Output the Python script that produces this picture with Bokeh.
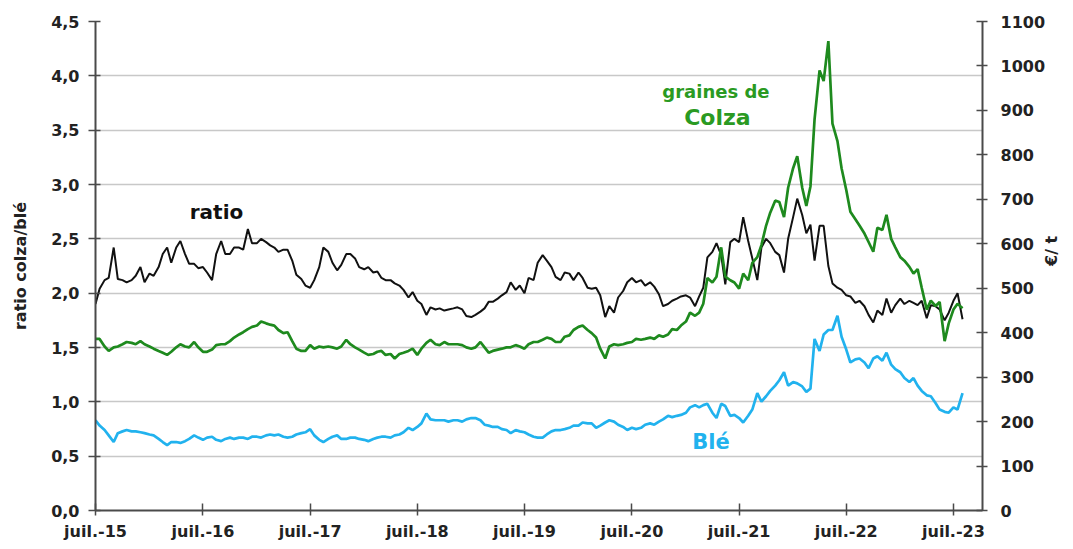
import pandas as pd
from math import pi
from bokeh.plotting import figure
from bokeh.models import Range1d, LinearAxis, FixedTicker, Label
from bokeh.embed import file_html
from bokeh.resources import INLINE

# ---- data (semi-monthly readings, July 2015 -> August 2023) ----
dates = pd.date_range("2015-07-01", periods=195, freq="SMS")

ratio = [
    1.90, 2.04, 2.12, 2.14, 2.42, 2.13, 2.12, 2.10, 2.12, 2.16,
    2.24, 2.10, 2.18, 2.16, 2.24, 2.36, 2.42, 2.28, 2.42, 2.48,
    2.36, 2.27, 2.27, 2.23, 2.24, 2.19, 2.12, 2.36, 2.48, 2.36,
    2.36, 2.42, 2.42, 2.40, 2.59, 2.46, 2.46, 2.50, 2.47, 2.44,
    2.42, 2.38, 2.40, 2.40, 2.30, 2.17, 2.13, 2.07, 2.05, 2.12,
    2.24, 2.42, 2.38, 2.28, 2.21, 2.26, 2.36, 2.36, 2.32, 2.24,
    2.22, 2.24, 2.19, 2.20, 2.14, 2.12, 2.12, 2.09, 2.07, 2.03,
    1.96, 2.01, 1.93, 1.90, 1.80, 1.87, 1.85, 1.86, 1.84, 1.85,
    1.86, 1.87, 1.85, 1.79, 1.78, 1.80, 1.83, 1.86, 1.92, 1.92,
    1.95, 1.98, 2.01, 2.10, 2.03, 2.07, 2.00, 2.14, 2.12, 2.28,
    2.35, 2.30, 2.24, 2.15, 2.12, 2.19, 2.18, 2.12, 2.19, 2.14,
    2.05, 2.04, 2.05, 1.98, 1.78, 1.88, 1.82, 1.96, 2.02, 2.10,
    2.14, 2.10, 2.12, 2.07, 2.10, 2.06, 1.99, 1.88, 1.90, 1.93,
    1.95, 1.97, 1.98, 1.96, 1.88, 1.97, 2.05, 2.33, 2.38, 2.46,
    2.35, 2.08, 2.47, 2.50, 2.47, 2.70, 2.48, 2.32, 2.12, 2.42,
    2.50, 2.46, 2.38, 2.35, 2.19, 2.50, 2.70, 2.87, 2.72, 2.55,
    2.63, 2.30, 2.62, 2.62, 2.25, 2.09, 2.05, 2.03, 1.98, 1.97,
    1.91, 1.93, 1.88, 1.80, 1.73, 1.84, 1.80, 1.95, 1.82, 1.89,
    1.95, 1.90, 1.93, 1.91, 1.89, 1.93, 1.77, 1.89, 1.88, 1.85,
    1.75, 1.82, 1.93, 2.00, 1.76,
]

colza = [
    386, 386, 369, 359, 367, 369, 374, 379, 377, 374,
    381, 374, 369, 364, 359, 355, 350, 357, 367, 374,
    369, 367, 379, 367, 357, 357, 362, 372, 374, 374,
    381, 389, 396, 401, 408, 413, 416, 425, 421, 418,
    416, 406, 399, 401, 381, 364, 359, 359, 372, 364,
    369, 367, 369, 367, 364, 369, 384, 374, 367, 362,
    355, 350, 352, 357, 359, 350, 352, 342, 352, 355,
    359, 364, 350, 364, 377, 384, 374, 372, 379, 374,
    374, 374, 372, 367, 364, 367, 379, 367, 355, 359,
    362, 364, 367, 367, 372, 369, 364, 374, 379, 379,
    384, 389, 386, 379, 379, 391, 394, 406, 413, 416,
    406, 399, 389, 364, 342, 369, 374, 372, 374, 377,
    379, 386, 384, 386, 389, 386, 394, 391, 396, 408,
    406, 416, 425, 445, 438, 445, 465, 523, 513, 526,
    592, 526, 518, 513, 499, 533, 518, 557, 570, 597,
    641, 670, 697, 694, 660, 726, 770, 797, 726, 685,
    729, 880, 990, 966, 1056, 870, 831, 770, 721, 672,
    655, 641, 623, 604, 582, 636, 631, 665, 611, 592,
    570, 562, 548, 533, 543, 501, 452, 472, 460, 469,
    381, 421, 452, 465, 455,
]

ble = [
    203, 191, 181, 169, 154, 174, 178, 181, 178, 178,
    176, 174, 171, 169, 161, 154, 147, 154, 154, 152,
    156, 161, 169, 164, 159, 164, 166, 159, 156, 161,
    164, 161, 164, 164, 161, 166, 166, 164, 169, 171,
    169, 171, 166, 164, 166, 171, 174, 176, 183, 169,
    159, 154, 161, 166, 169, 161, 161, 164, 164, 161,
    159, 156, 161, 164, 166, 166, 164, 169, 171, 176,
    186, 181, 188, 196, 218, 205, 203, 203, 203, 200,
    203, 203, 200, 205, 208, 208, 203, 193, 191, 188,
    188, 183, 181, 174, 181, 178, 176, 171, 166, 164,
    164, 171, 178, 181, 181, 183, 186, 191, 191, 198,
    196, 196, 186, 191, 198, 203, 200, 193, 188, 181,
    186, 183, 186, 193, 196, 193, 200, 205, 213, 210,
    213, 215, 220, 232, 237, 232, 237, 240, 220, 208,
    240, 235, 213, 215, 208, 198, 213, 227, 264, 245,
    257, 269, 281, 293, 311, 281, 289, 286, 279, 267,
    274, 386, 359, 396, 406, 406, 438, 391, 362, 333,
    340, 342, 333, 320, 342, 347, 337, 355, 328, 318,
    311, 298, 289, 298, 281, 269, 259, 257, 242, 227,
    222, 220, 232, 227, 264,
]

x_tick_dates = ["2015-07-01", "2016-07-01", "2017-07-01", "2018-07-01", "2019-07-01",
                "2020-07-01", "2021-07-01", "2022-07-01", "2023-07-01"]
x_tick_labels = ["juil.-15", "juil.-16", "juil.-17", "juil.-18", "juil.-19",
                 "juil.-20", "juil.-21", "juil.-22", "juil.-23"]
left_ticks = [0.0, 0.5, 1.0, 1.5, 2.0, 2.5, 3.0, 3.5, 4.0, 4.5]
left_labels = ["0,0", "0,5", "1,0", "1,5", "2,0", "2,5", "3,0", "3,5", "4,0", "4,5"]
right_ticks = [0, 100, 200, 300, 400, 500, 600, 700, 800, 900, 1000, 1100]


def ms(d):
    return int(pd.Timestamp(d).value // 10**6)


FONT = "DejaVu Sans"
AXIS_COLOR = "#4a4a4a"
BLACK = "#111111"
GREEN = "#1e8a1e"
GREEN_TXT = "#2a9a22"
BLUE = "#21b2ee"

p = figure(
    width=1073, height=549,
    x_axis_type="datetime",
    x_range=Range1d(ms("2015-07-01"), ms("2023-10-08")),
    y_range=Range1d(0, 4.5),
    output_backend="svg", toolbar_location=None,
    min_border_left=95, min_border_right=90, min_border_top=21, min_border_bottom=39,
)
p.outline_line_color = None
p.background_fill_color = "white"
p.border_fill_color = "white"
p.extra_y_ranges = {"eur": Range1d(0, 1100)}

# x axis
xa = p.xaxis[0]
xt = [ms(d) for d in x_tick_dates]
xa.ticker = FixedTicker(ticks=xt)
xa.major_label_overrides = {t: lab for t, lab in zip(xt, x_tick_labels)}

# left axis
ya = p.yaxis[0]
ya.ticker = FixedTicker(ticks=left_ticks)
ya.major_label_overrides = {t: lab for t, lab in zip(left_ticks, left_labels)}
ya.axis_label = "ratio colza/blé"

# right axis
ra = LinearAxis(y_range_name="eur", ticker=FixedTicker(ticks=right_ticks))
ra.axis_label = "€/ t"
try:
    ra.axis_label_orientation = pi / 2
except Exception:
    pass
p.add_layout(ra, "right")

for ax in (xa, ya, ra):
    ax.axis_line_color = AXIS_COLOR
    ax.axis_line_width = 2
    ax.major_tick_line_color = AXIS_COLOR
    ax.major_tick_line_width = 1.5
    ax.minor_tick_line_color = None
    ax.major_label_text_font = FONT
    ax.major_label_text_font_style = "bold"
    ax.major_label_text_font_size = "16px"
    ax.major_label_text_color = "#222222"
    ax.axis_label_text_font = FONT
    ax.axis_label_text_font_style = "bold"
    ax.axis_label_text_font_size = "16px"
    ax.axis_label_text_color = "#222222"

xa.major_tick_in = 7
xa.major_tick_out = 5
xa.major_label_standoff = 6
ya.major_tick_in = 5
ya.major_tick_out = 7
ya.major_label_standoff = 9
ya.axis_label_standoff = 18
ra.major_tick_in = 6
ra.major_tick_out = 5
ra.major_label_standoff = 13
ra.axis_label_standoff = 3

p.xgrid.grid_line_color = None
p.ygrid.grid_line_color = "#c8c8c8"
p.ygrid.grid_line_width = 1.5

# series
p.line(dates, ratio, color=BLACK, line_width=2)
p.line(dates, colza, color=GREEN, line_width=2.7, y_range_name="eur")
p.line(dates, ble, color=BLUE, line_width=2.7, y_range_name="eur")


# annotations
def lab(text, date, y, color, size):
    p.add_layout(Label(x=ms(date), y=y, text=text, text_color=color,
                       text_font=FONT, text_font_style="bold",
                       text_font_size=size, text_align="center",
                       text_baseline="middle"))


lab("ratio", "2016-08-16", 2.75, "#111111", "20px")
lab("graines de", "2021-04-13", 3.86, GREEN_TXT, "18px")
lab("Colza", "2021-04-18", 3.62, GREEN_TXT, "22px")
lab("Blé", "2021-03-27", 0.63, BLUE, "21px")

open("out.html", "w").write(file_html(p, INLINE))
